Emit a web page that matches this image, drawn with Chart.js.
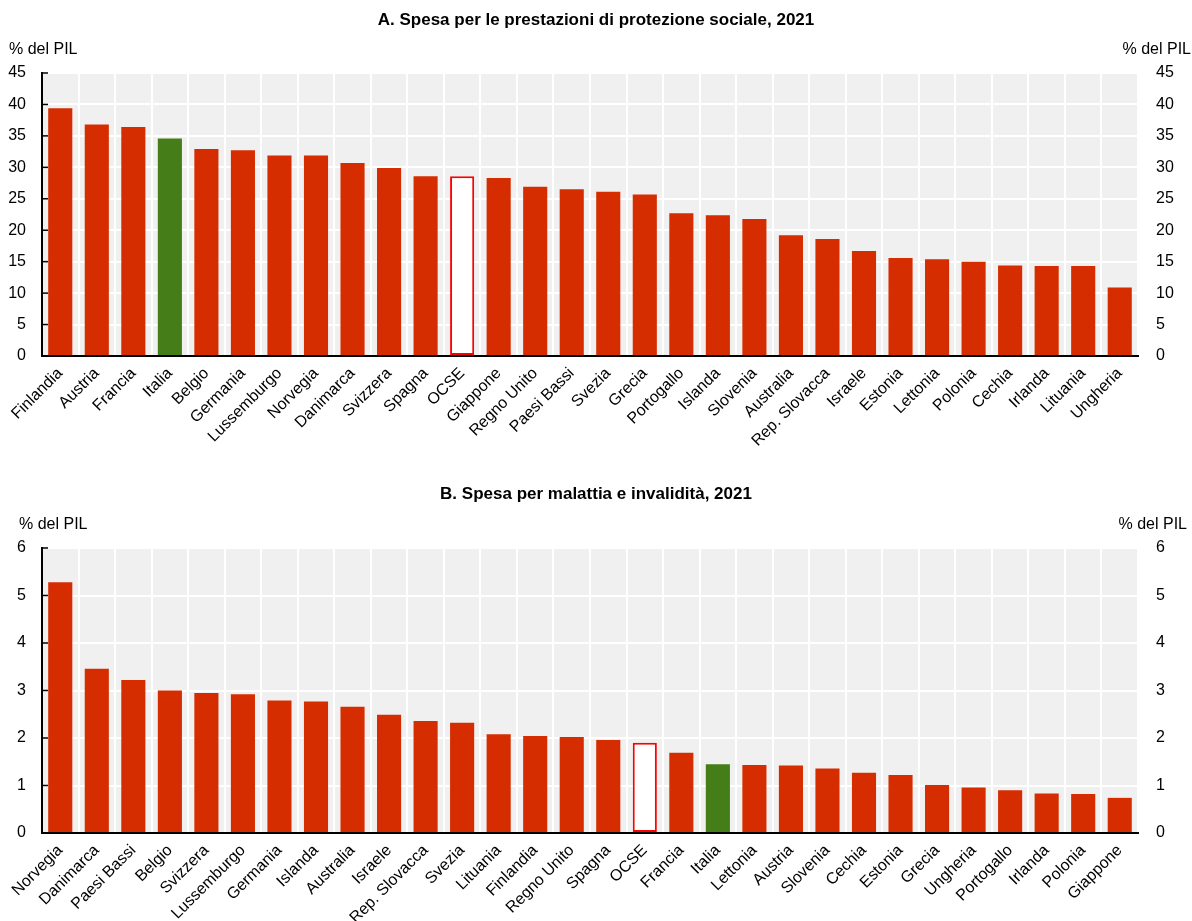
<!DOCTYPE html>
<html>
<head>
<meta charset="utf-8">
<script src="https://cdn.jsdelivr.net/npm/chart.js@4.4.1/dist/chart.umd.min.js"></script>
<style>
  body { margin: 0; background: #fff; }
  .wrap { position: absolute; left: 0; width: 1192px; }
  #boxA { top: 0; height: 460px; }
  #boxB { top: 465px; height: 456px; }
</style>
</head>
<body>
<div class="wrap" id="boxA"><canvas id="chartA"></canvas></div>
<div class="wrap" id="boxB"><canvas id="chartB"></canvas></div>
<script>
// Panel A - social protection spending, % of GDP
const catA = ['Finlandia', 'Austria', 'Francia', 'Italia', 'Belgio', 'Germania', 'Lussemburgo', 'Norvegia',
  'Danimarca', 'Svizzera', 'Spagna', 'OCSE', 'Giappone', 'Regno Unito', 'Paesi Bassi', 'Svezia', 'Grecia',
  'Portogallo', 'Islanda', 'Slovenia', 'Australia', 'Rep. Slovacca', 'Israele', 'Estonia', 'Lettonia',
  'Polonia', 'Cechia', 'Irlanda', 'Lituania', 'Ungheria'];
const valA = [39.4, 36.8, 36.4, 34.6, 32.9, 32.7, 31.9, 31.9, 30.7, 29.9, 28.6, 28.6, 28.3, 26.9, 26.5,
  26.1, 25.7, 22.7, 22.4, 21.8, 19.2, 18.6, 16.7, 15.6, 15.4, 15.0, 14.4, 14.3, 14.3, 10.9];
const ticksA = [0, 5, 10, 15, 20, 25, 30, 35, 40, 45];

// Panel B - sickness and disability spending, % of GDP
const catB = ['Norvegia', 'Danimarca', 'Paesi Bassi', 'Belgio', 'Svizzera', 'Lussemburgo', 'Germania',
  'Islanda', 'Australia', 'Israele', 'Rep. Slovacca', 'Svezia', 'Lituania', 'Finlandia', 'Regno Unito',
  'Spagna', 'OCSE', 'Francia', 'Italia', 'Lettonia', 'Austria', 'Slovenia', 'Cechia', 'Estonia', 'Grecia',
  'Ungheria', 'Portogallo', 'Irlanda', 'Polonia', 'Giappone'];
const valB = [5.28, 3.46, 3.22, 3.00, 2.95, 2.92, 2.79, 2.77, 2.66, 2.49, 2.36, 2.32, 2.08, 2.04, 2.02,
  1.96, 1.90, 1.69, 1.45, 1.43, 1.42, 1.36, 1.27, 1.22, 1.01, 0.96, 0.90, 0.83, 0.82, 0.74];
const ticksB = [0, 1, 2, 3, 4, 5, 6];

const RED = '#d62d00';
const GREEN = '#457e18';
const FONT = "'Liberation Sans', Arial, sans-serif";

// plot background + little inward ticks + "% del PIL" unit labels
const panelDecor = {
  id: 'panelDecor',
  beforeDraw(chart) {
    const a = chart.chartArea;
    const ctx = chart.ctx;
    ctx.save();
    ctx.fillStyle = '#f0f0f0';
    ctx.fillRect(a.left, a.top, a.right - a.left, a.bottom - a.top);
    ctx.restore();
  },
  afterDraw(chart, args, opts) {
    const a = chart.chartArea;
    const ctx = chart.ctx;
    const y = chart.scales.y;
    ctx.save();
    ctx.strokeStyle = '#000';
    ctx.lineWidth = 1.5;
    y.ticks.forEach(t => {
      const py = y.getPixelForValue(t.value);
      ctx.beginPath();
      ctx.moveTo(a.left, py);
      ctx.lineTo(a.left + 6, py);
      ctx.stroke();
    });
    ctx.fillStyle = '#000';
    ctx.font = '16px ' + FONT;
    ctx.textBaseline = 'middle';
    ctx.textAlign = 'left';
    ctx.fillText('% del PIL', opts.leftX, a.top - 23);
    ctx.textAlign = 'right';
    ctx.fillText('% del PIL', opts.rightX, a.top - 23);
    ctx.restore();
  }
};

function makePanel(id, title, cats, vals, tickVals, titleTop, areaTop, areaBottom, unitLeft, unitRight) {
  const ctx = document.getElementById(id);
  const maxV = tickVals[tickVals.length - 1];
  const step = tickVals[1] - tickVals[0];
  const fill = cats.map(c => c === 'Italia' ? GREEN : (c === 'OCSE' ? '#ffffff' : RED));
  const border = cats.map(c => c === 'OCSE' ? '#ff0000' : RED);
  const bw = cats.map(c => c === 'OCSE' ? 2 : 0);
  const boxH = ctx.parentNode.offsetHeight;

  const yTicks = {
    stepSize: step,
    color: '#000',
    font: { family: FONT, size: 16 }
  };

  return new Chart(ctx, {
    type: 'bar',
    data: {
      labels: cats,
      datasets: [{
        data: vals,
        backgroundColor: fill,
        borderColor: border,
        borderWidth: bw,
        borderSkipped: false,
        categoryPercentage: 1,
        barPercentage: 0.66
      }]
    },
    options: {
      responsive: true,
      maintainAspectRatio: false,
      animation: false,
      layout: { padding: 0 },
      plugins: {
        legend: { display: false },
        tooltip: { enabled: false },
        title: {
          display: true,
          text: title,
          color: '#000',
          font: { family: FONT, size: 17, weight: 'bold', lineHeight: 1.2 },
          padding: { top: titleTop, bottom: areaTop - titleTop - 20.4 }
        },
        panelDecor: { leftX: unitLeft, rightX: unitRight }
      },
      scales: {
        x: {
          offset: true,
          grid: { offset: true, color: '#ffffff', lineWidth: 2, drawTicks: false },
          border: { color: '#000', width: 2 },
          ticks: {
            color: '#000',
            font: { family: FONT, size: 16 },
            minRotation: 45,
            maxRotation: 45,
            autoSkip: false,
            padding: 8
          },
          afterFit(s) { s.height = boxH - areaBottom; }
        },
        y: {
          position: 'left',
          min: 0,
          max: maxV,
          grid: { color: '#ffffff', lineWidth: 2, drawTicks: false },
          border: { color: '#000', width: 2 },
          ticks: Object.assign({ padding: 16 }, yTicks),
          afterFit(s) { s.width = 42; }
        },
        y2: {
          position: 'right',
          min: 0,
          max: maxV,
          grid: { display: false, drawTicks: false },
          border: { display: false },
          ticks: Object.assign({ padding: 18 }, yTicks),
          afterFit(s) { s.width = 54; }
        }
      }
    },
    plugins: [panelDecor]
  });
}

makePanel('chartA', 'A. Spesa per le prestazioni di protezione sociale, 2021', catA, valA, ticksA, 10, 73, 356, 9, 1191);
makePanel('chartB', 'B. Spesa per malattia e invalidità, 2021', catB, valB, ticksB, 19, 83, 368, 19, 1187);
</script>
</body>
</html>
